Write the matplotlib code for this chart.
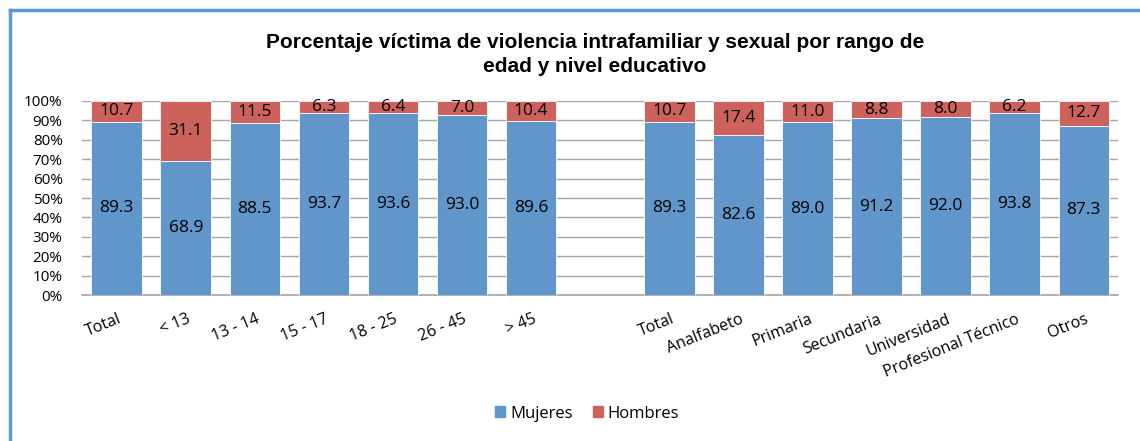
import matplotlib
matplotlib.use("Agg")
import matplotlib.pyplot as plt
from matplotlib.lines import Line2D
import numpy as np

categories = ["Total", "< 13", "13 - 14", "15 - 17", "18 - 25", "26 - 45", "> 45", "",
              "Total", "Analfabeto", "Primaria", "Secundaria", "Universidad",
              "Profesional Técnico", "Otros"]
mujeres = [89.3, 68.9, 88.5, 93.7, 93.6, 93.0, 89.6, None,
           89.3, 82.6, 89.0, 91.2, 92.0, 93.8, 87.3]
hombres = [10.7, 31.1, 11.5, 6.3, 6.4, 7.0, 10.4, None,
           10.7, 17.4, 11.0, 8.8, 8.0, 6.2, 12.7]
title = "Porcentaje víctima de violencia intrafamiliar y sexual por rango de\nedad y nivel educativo"

blue = "#6096C9"
red = "#CD625C"

fig = plt.figure(figsize=(11.4, 4.41), dpi=100)
ax = fig.add_axes([0.072, 0.331, 0.909, 0.44])

font = "Open Sans"
x = np.arange(len(categories))
for i, (m, h) in enumerate(zip(mujeres, hombres)):
    if m is None:
        continue
    ax.bar(i, m, width=0.73, color=blue, edgecolor="white", linewidth=0.6, zorder=3)
    ax.bar(i, h, bottom=m, width=0.73, color=red, edgecolor="white", linewidth=0.6, zorder=3)
    ax.text(i, m / 2, f"{m:.1f}", ha="center", va="center", fontsize=12.5, family=font, zorder=4)
    ax.text(i, m + h / 2, f"{h:.1f}", ha="center", va="center", fontsize=12.5, family=font, zorder=4)

ax.set_xlim(-0.5, len(categories) - 0.5)
ax.set_ylim(0, 100)
ax.set_yticks(np.arange(0, 101, 10))
ax.set_yticklabels([f"{v}%" for v in range(0, 101, 10)], family=font, fontsize=11)
ax.yaxis.grid(True, color="#A6A6A6", linewidth=1, zorder=0)
ax.tick_params(axis="y", length=0, pad=14)
ax.tick_params(axis="x", length=0)
for s in ["top", "right", "left"]:
    ax.spines[s].set_visible(False)
ax.spines["bottom"].set_color("#A6A6A6")
ax.spines["bottom"].set_linewidth(1.2)
ax.set_xticks(x)
ax.set_xticklabels([])
for i, c in enumerate(categories):
    if not c:
        continue
    ax.annotate(c, xy=(i, 0), xycoords="data", xytext=(3, -17), textcoords="offset points",
                ha="right", va="center", rotation=22, rotation_mode="anchor",
                fontsize=11.5, family=font)

fig.text(0.522, 0.876, title, ha="center", va="center", fontsize=15, fontweight="bold",
         family="Liberation Sans", linespacing=1.3)

handles = [plt.Rectangle((0, 0), 1, 1, color=blue), plt.Rectangle((0, 0), 1, 1, color=red)]
fig.legend(handles, ["Mujeres", "Hombres"], loc="center", bbox_to_anchor=(0.515, 0.062),
           ncol=2, frameon=False, prop={"family": font, "size": 12},
           handlelength=0.6, handleheight=0.6, handletextpad=0.3, columnspacing=1.2)

bc = "#5B9BD5"
fig.add_artist(Line2D([0.0088, 1.0], [0.977, 0.977], transform=fig.transFigure, color=bc, linewidth=2.5))
fig.add_artist(Line2D([0.0088, 0.0088], [0.977, 0.0], transform=fig.transFigure, color=bc, linewidth=2.5))

fig.savefig("out.png", dpi=100)
